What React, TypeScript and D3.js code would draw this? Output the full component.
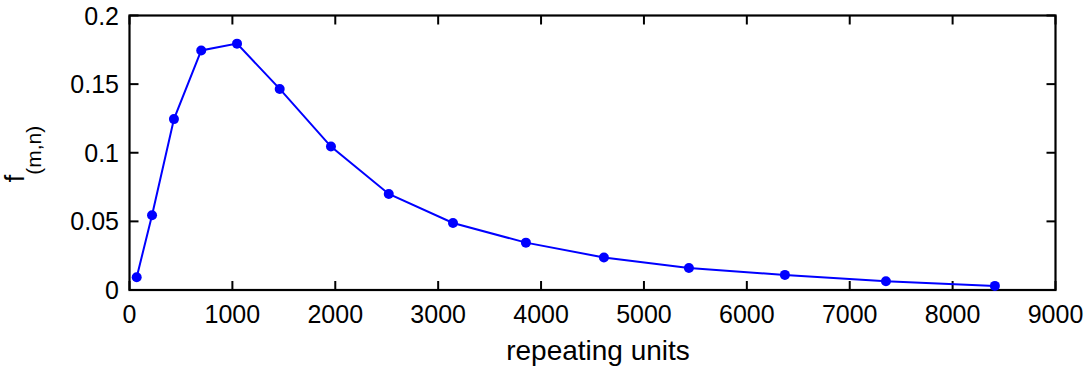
import React from "react";
import * as d3 from "d3";

const xValues = [70, 219, 432, 697, 1045, 1460, 1958, 2520, 3144, 3853, 4611, 5437, 6370, 7352, 8411];
const yValues = [0.0093, 0.0545, 0.1245, 0.1745, 0.1795, 0.1465, 0.1045, 0.0700, 0.0488, 0.0345, 0.0237, 0.0160, 0.0110, 0.0064, 0.0030];
const xTicks = [0, 1000, 2000, 3000, 4000, 5000, 6000, 7000, 8000, 9000];
const yTicks = [0, 0.05, 0.1, 0.15, 0.2];
const yTickLabels = ["0", "0.05", "0.1", "0.15", "0.2"];

const W = 1092;
const H = 371;
const left = 129.5;
const right = 1055.5;
const top = 15.5;
const bottom = 290;
const font = "'Liberation Sans', Arial, Helvetica, sans-serif";

export default function App() {
  const x = d3.scaleLinear().domain([0, 9000]).range([left, right]);
  const y = d3.scaleLinear().domain([0, 0.2]).range([bottom, top]);
  const line = d3
    .line<number>()
    .x((_, i) => x(xValues[i]))
    .y((d) => y(d));
  const tl = 9;
  return (
    <svg
      width={W}
      height={H}
      style={{ position: "absolute", left: 0, top: 0, background: "#fff" }}
    >
      <rect x={0} y={0} width={W} height={H} fill="#fff" />
      {xTicks.map((t, i) => (
        <g key={"xt" + i}>
          <line x1={x(t)} x2={x(t)} y1={bottom} y2={bottom - tl} stroke="#000" strokeWidth={2} />
          <line x1={x(t)} x2={x(t)} y1={top} y2={top + tl} stroke="#000" strokeWidth={2} />
          <text x={x(t)} y={323} textAnchor="middle" fontFamily={font} fontSize={25} fill="#000">
            {t}
          </text>
        </g>
      ))}
      {yTicks.map((t, i) => (
        <g key={"yt" + i}>
          <line x1={left} x2={left + tl} y1={y(t)} y2={y(t)} stroke="#000" strokeWidth={2} />
          <line x1={right} x2={right - tl} y1={y(t)} y2={y(t)} stroke="#000" strokeWidth={2} />
          <text x={119} y={y(t) + 9} textAnchor="end" fontFamily={font} fontSize={25} fill="#000">
            {yTickLabels[i]}
          </text>
        </g>
      ))}
      <rect
        x={left}
        y={top}
        width={right - left}
        height={bottom - top}
        fill="none"
        stroke="#000"
        strokeWidth={2.2}
      />
      <path d={line(yValues) || ""} fill="none" stroke="#0000ff" strokeWidth={2} />
      {yValues.map((v, i) => (
        <circle key={"p" + i} cx={x(xValues[i])} cy={y(v)} r={5} fill="#0000ff" />
      ))}
      <text x={598} y={360} textAnchor="middle" fontFamily={font} fontSize={28} fill="#000">
        repeating units
      </text>
      <text
        transform={`translate(24, 154) rotate(-90)`}
        textAnchor="middle"
        fontFamily={font}
        fontSize={27}
        fill="#000"
      >
        f
        <tspan fontSize={21} dy={17}>
          (m,n)
        </tspan>
      </text>
    </svg>
  );
}
